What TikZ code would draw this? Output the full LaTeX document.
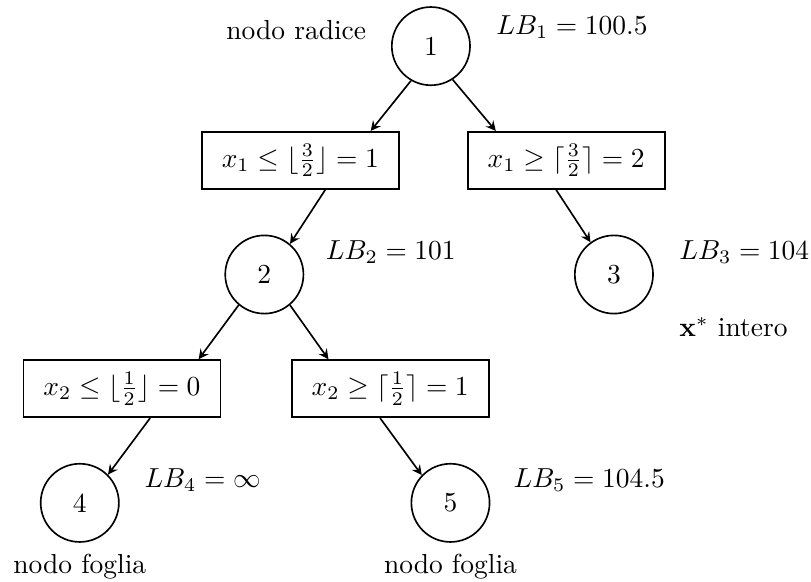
\documentclass[tikz,border=0pt]{standalone}
\usetikzlibrary{positioning}
\begin{document}
\begin{tikzpicture}[node distance=1.46cm, auto, >=stealth, semithick,
    nodo/.style={draw, circle, minimum size=1cm, inner sep=0pt},
    vincolo/.style={draw, minimum width=2.52cm, minimum height=0.73cm}]
    \useasboundingbox (-5.51,-6.84) rectangle (4.86,0.59);
    \node[nodo] (n1) {1};
    \node[vincolo, below of=n1, xshift=-1.67cm] (v1) {$x_1 \leq \lfloor\frac{3}{2}\rfloor = 1$};
    \node[vincolo, below of=n1, xshift=1.73cm] (v2) {$x_1 \geq \lceil\frac{3}{2}\rceil = 2$};
    \node[nodo, below of=v1, xshift=-0.46cm] (n2) {2};
    \node[nodo, below of=v2, xshift=0.61cm] (n3) {3};
    \node[vincolo, below of=n2, xshift=-1.82cm] (v3) {$x_2 \leq \lfloor\frac{1}{2}\rfloor = 0$};
    \node[vincolo, below of=n2, xshift=1.61cm] (v4) {$x_2 \geq \lceil\frac{1}{2}\rceil = 1$};
    \node[nodo, below of=v3, xshift=-0.54cm] (n4) {4};
    \node[nodo, below of=v4, xshift=0.77cm] (n5) {5};

    % Etichette dei nodi
    \node[left=0.19cm of n1, yshift=0.2cm] (radice) {nodo radice};
    \node[right=0.2cm of n1, yshift=0.24cm] (lb1) {$LB_1 = 100.5$};
    \node[right=0.15cm of n2, yshift=0.29cm] (lb2) {$LB_2 = 101$};
    \node[right=0.2cm of n3, yshift=0.29cm] (lb3) {$LB_3 = 104$};
    \node[below=0.96cm of lb3.west, anchor=west] (intero) {$\mathbf{x}^*$ intero};
    \node[right=0.19cm of n4, yshift=0.29cm] (lb4) {$LB_4 = \infty$};
    \node[right=0.17cm of n5, yshift=0.29cm] (lb5) {$LB_5 = 104.5$};
    \node[below=0.02cm of n4] (foglia4) {nodo foglia};
    \node[below=0.02cm of n5] (foglia5) {nodo foglia};

    % Archi dell'albero
    \draw[->] (n1.-120) -- ([xshift=0.9cm]v1.north);
    \draw[->] (n1.-57) -- ([xshift=-0.9cm]v2.north);
    \draw[->] ([xshift=0.32cm]v1.south) -- (n2.50);
    \draw[->] ([xshift=-0.13cm]v2.south) -- (n3.126);
    \draw[->] (n2.-130) -- ([xshift=0.98cm]v3.north);
    \draw[->] (n2.-50) -- ([xshift=-0.79cm]v4.north);
    \draw[->] ([xshift=0.36cm]v3.south) -- (n4.45);
    \draw[->] ([xshift=-0.13cm]v4.south) -- (n5.136);
\end{tikzpicture}
\end{document}
